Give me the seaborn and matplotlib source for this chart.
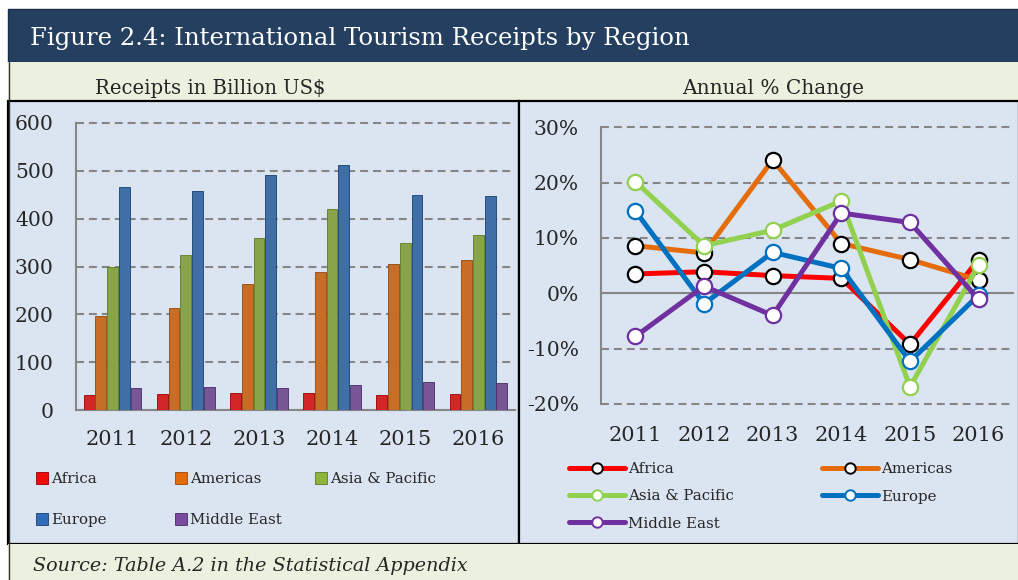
import pandas as pd
import matplotlib.pyplot as plt
import seaborn as sns
from matplotlib.patches import Rectangle
from matplotlib.lines import Line2D

# Data
years = ['2011', '2012', '2013', '2014', '2015', '2016']
regions = ['Africa', 'Americas', 'Asia & Pacific', 'Europe', 'Middle East']

receipts_africa = [31, 33, 35, 36, 31, 33]
receipts_americas = [197, 213, 264, 288, 306, 313]
receipts_asia = [300, 324, 360, 420, 349, 366]
receipts_europe = [466, 458, 491, 512, 449, 447]
receipts_mideast = [45, 48, 46, 52, 59, 56]

change_africa = [3.5, 3.9, 3.2, 2.7, -9.2, 6.1]
change_americas = [8.6, 7.3, 24.1, 9.0, 6.1, 2.4]
change_asia = [20.2, 8.6, 11.4, 16.7, -16.9, 5.1]
change_europe = [14.9, -1.9, 7.4, 4.5, -12.3, -0.3]
change_mideast = [-7.8, 1.3, -4.0, 14.5, 12.8, -1.1]

pct_ticks = [-20, -10, 0, 10, 20, 30]
pct_labels = ['-20%', '-10%', '0%', '10%', '20%', '30%']
bar_ticks = [0, 100, 200, 300, 400, 500, 600]

bar_colors = ['#F00A0A', '#E06A0C', '#8DB33B', '#2F6DB8', '#7A4A9E']
bar_edges = ['#9A0000', '#9A4505', '#5A7A20', '#1A3F70', '#4A2A68']
line_colors = ['#FF0000', '#E46C0A', '#92D050', '#0070C0', '#7030A0']
marker_edges = ['black', 'black', '#92D050', '#0070C0', '#7030A0']

receipts = pd.DataFrame({
    'Year': years * 5,
    'Region': [r for r in regions for _ in years],
    'Receipts': receipts_africa + receipts_americas + receipts_asia
                + receipts_europe + receipts_mideast,
})
changes = [change_africa, change_americas, change_asia, change_europe, change_mideast]

W, H = 1018, 580
FONT = 'DejaVu Serif'
GREY = '#868686'
PANEL = '#DBE5F1'
BEIGE = '#EBF1DE'


def box(x0, y0, x1, y1):
    # pixel box (top-left origin) -> figure fraction [l, b, w, h]
    return [x0 / W, 1 - y1 / H, (x1 - x0) / W, (y1 - y0) / H]


def rect(x0, y0, x1, y1, fc, ec='none', lw=0, z=0):
    l, b, w, h = box(x0, y0, x1, y1)
    fig.add_artist(Rectangle((l, b), w, h, transform=fig.transFigure,
                             facecolor=fc, edgecolor=ec, linewidth=lw, zorder=z))


def style_axes(ax):
    ax.grid(axis='y', color=GREY, linestyle=(0, (3.8, 2.4)), linewidth=1.5, zorder=0)
    ax.set_axisbelow(True)
    for gl in ax.get_ygridlines():
        gl.set_clip_on(False)
    for s in ['top', 'right']:
        ax.spines[s].set_visible(False)
    for s in ['left', 'bottom']:
        ax.spines[s].set_color(GREY)
        ax.spines[s].set_linewidth(1.5)
    ax.set_xlabel('')
    ax.set_ylabel('')


sns.set_style('white')
plt.rcParams['font.family'] = [FONT, 'DejaVu Sans']

fig = plt.figure(figsize=(W / 100, H / 100), dpi=100, facecolor='white')

# background blocks
rect(8, 9, 1019, 62, '#243F60', ec='#1A2E48', lw=1)
rect(8, 62, 1019, 101, BEIGE)
rect(8, 101, 519, 544, PANEL, ec='black', lw=1.6)
rect(519, 101, 1019, 544, PANEL, ec='black', lw=1.6)
rect(8, 544, 1019, 581, BEIGE)
fig.add_artist(Line2D([8.5 / W, 8.5 / W], [0, 1 - 62 / H], transform=fig.transFigure,
                      color='#333333', lw=1))

fig.text(30 / W, 1 - 39 / H, 'Figure 2.4: International Tourism Receipts by Region',
         color='white', fontsize=17.6, va='center', ha='left')
fig.text(210 / W, 1 - 88 / H, 'Receipts in Billion US$', fontsize=14.1,
         ha='center', va='center')
fig.text(773 / W, 1 - 88 / H, 'Annual % Change', fontsize=14.5,
         ha='center', va='center')
fig.text(33 / W, 1 - 566 / H, 'Source: Table A.2 in the Statistical Appendix',
         fontsize=13.8, style='italic', ha='left', va='center')

# ---- left: bar chart ----
ax1 = fig.add_axes(box(76, 123, 515, 410))
ax1.set_facecolor('none')
sns.barplot(data=receipts, x='Year', y='Receipts', hue='Region', order=years,
            hue_order=regions, palette=bar_colors, width=0.8, gap=0.08,
            legend=False, ax=ax1, zorder=3)
for i, cont in enumerate(ax1.containers):
    for p in cont:
        p.set_edgecolor(bar_edges[i])
        p.set_linewidth(0.6)
ax1.set_xlim(-0.5, 5.5)
ax1.set_ylim(0, 600)
ax1.set_yticks(bar_ticks)
ax1.set_yticklabels([str(t) for t in bar_ticks], fontsize=14.6)
ax1.set_xticks([i - 0.5 for i in range(7)])
ax1.set_xticklabels([])
ax1.set_xticks(range(6), labels=years, minor=True)
ax1.tick_params(axis='x', which='major', direction='out', length=6, width=1.5, color=GREY)
ax1.tick_params(axis='x', which='minor', length=0, pad=14.5, labelsize=15.0)
ax1.tick_params(axis='y', direction='out', length=6, width=1.5, color=GREY, pad=10)
style_axes(ax1)

# left legend, one small legend per column
cols_left = [(35, [0, 3]), (174, [1, 4]), (314, [2])]
for x, idx in cols_left:
    handles = [Line2D([], [], linestyle='none', marker='s', markersize=8,
                      markerfacecolor=bar_colors[i], markeredgecolor=bar_edges[i],
                      markeredgewidth=0.6) for i in idx]
    cy = 479 if len(idx) == 1 else 499.5
    fig.legend(handles, [regions[i] for i in idx], loc='center left',
               bbox_to_anchor=(x / W, 1 - cy / H), frameon=False, fontsize=10.8,
               handlelength=0.9, handletextpad=0.15, labelspacing=1.8,
               borderpad=0, borderaxespad=0)

# ---- right: line chart ----
ax2 = fig.add_axes(box(601, 127.3, 1013, 404))
ax2.set_facecolor('none')
for i, r in enumerate(regions):
    sns.lineplot(x=list(range(6)), y=changes[i], color=line_colors[i], linewidth=3.6,
                 marker='o', markersize=11, markerfacecolor='white',
                 markeredgecolor=marker_edges[i], markeredgewidth=1.6,
                 sort=False, ax=ax2, zorder=3 + i)
ax2.set_xlim(-0.5, 5.5)
ax2.set_ylim(-20, 30)
ax2.set_yticks(pct_ticks)
ax2.set_yticklabels(pct_labels, fontsize=14.6)
ax2.tick_params(axis='y', direction='out', length=6, width=1.5, color=GREY, pad=10)
ax2.spines['bottom'].set_position(('data', 0))
ax2.set_xticks([i - 0.5 for i in range(7)])
ax2.set_xticklabels([])
ax2.tick_params(axis='x', direction='out', length=6, width=1.5, color=GREY)
style_axes(ax2)
sec = ax2.secondary_xaxis('bottom')
sec.set_xticks(range(6), labels=years)
sec.tick_params(length=0, pad=15.5, labelsize=15.0)
sec.spines['bottom'].set_visible(False)

# right legend
cols_right = [(569, [0, 2, 4]), (822, [1, 3])]
for x, idx in cols_right:
    handles = [Line2D([], [], color=line_colors[i], linewidth=3.6, marker='o',
                      markersize=7.5, markerfacecolor='white',
                      markeredgecolor=marker_edges[i], markeredgewidth=1.4)
               for i in idx]
    cy = 496.5 if len(idx) == 3 else 483
    fig.legend(handles, [regions[i] for i in idx], loc='center left',
               bbox_to_anchor=(x / W, 1 - cy / H), frameon=False, fontsize=10.8,
               handlelength=3.7, handletextpad=0.25, labelspacing=0.88,
               borderpad=0, borderaxespad=0)

fig.savefig('out.png', dpi=100, facecolor='white')
